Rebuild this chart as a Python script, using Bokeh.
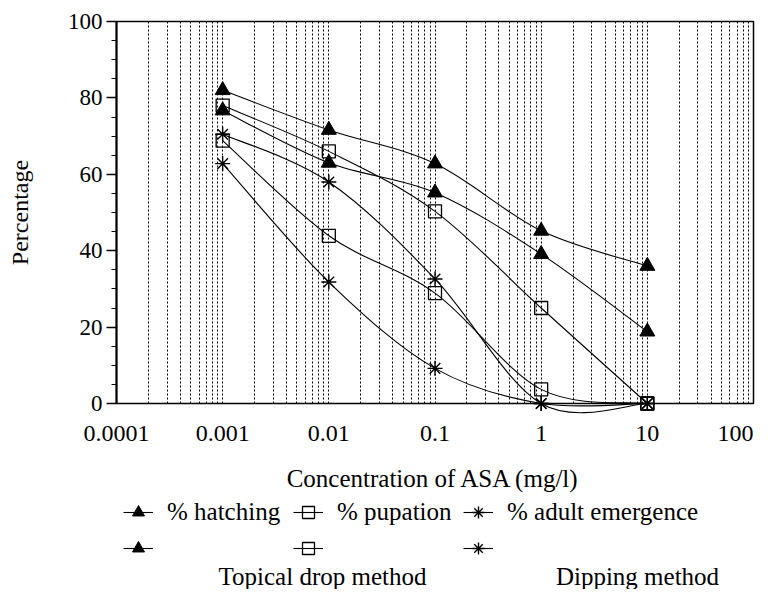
import math
from bokeh.plotting import figure
from bokeh.layouts import column
from bokeh.models import FixedTicker, Legend, LegendItem, Label, Range1d
from bokeh.embed import file_html
from bokeh.resources import INLINE
from bokeh.core.properties import value

# ---------------- data ----------------
conc = [0.001, 0.01, 0.1, 1, 10]
hatch_a = [82, 71.6, 62.8, 45.2, 36]
hatch_b = [76.7, 63, 55.2, 39.1, 18.8]
pup_a = [78, 66, 50.3, 25, 0]
pup_b = [68.8, 43.9, 28.9, 3.7, 0]
adult_a = [70.5, 58, 32.6, 0, 0]
adult_b = [62.8, 31.8, 9.2, 0, 0]

x_ticks = [0.0001, 0.001, 0.01, 0.1, 1, 10, 100]
x_tick_labels = ["0.0001", "0.001", "0.01", "0.1", "1", "10", "100"]
y_ticks = [0, 20, 40, 60, 80, 100]

legend_labels = ["% hatching", "% pupation", "% adult emergence"]
method_labels = ["Topical drop method", "Dipping method"]
x_label = "Concentration of ASA (mg/l)"
y_label = "Percentage"

FONT = "Liberation Serif"
W = 755
FRAME_L, FRAME_R = 116, 753
H1 = 415
H2 = 589 - H1

# ---------------- main plot ----------------
p = figure(width=W, height=H1, x_axis_type="log", title=None,
           x_range=Range1d(1e-4, 100), y_range=Range1d(0, 100),
           output_backend="svg", toolbar_location=None,
           min_border_left=FRAME_L, min_border_right=W - FRAME_R,
           min_border_top=21, min_border_bottom=12)
p.frame_align = False
p.background_fill_color = "white"
p.border_fill_color = "white"
p.outline_line_color = "black"
p.outline_line_width = 1.5

grid_ticks = [m * 10 ** e for e in range(-4, 2) for m in range(1, 10)] + [100]
p.xgrid.ticker = FixedTicker(ticks=grid_ticks)
p.xgrid.grid_line_color = "black"
p.xgrid.grid_line_dash = "2 2"
p.xgrid.grid_line_width = 1
p.ygrid.visible = False
p.xaxis.visible = False

p.yaxis.ticker = FixedTicker(ticks=y_ticks, minor_ticks=list(range(0, 101, 5)))
p.yaxis.major_tick_out = 10
p.yaxis.major_tick_in = 0
p.yaxis.minor_tick_out = 5
p.yaxis.minor_tick_in = 0
p.yaxis.axis_line_width = 2
p.yaxis.major_tick_line_width = 1.3
p.yaxis.major_label_text_font = FONT
p.yaxis.major_label_text_font_size = "23px"
p.yaxis.major_label_text_color = "black"
p.yaxis.major_label_standoff = 4
p.yaxis.axis_label = y_label
p.yaxis.axis_label_text_font = FONT
p.yaxis.axis_label_text_font_size = "24px"
p.yaxis.axis_label_text_font_style = "normal"
p.yaxis.axis_label_text_color = "black"
p.yaxis.axis_label_standoff = 32


def smooth_segments(xs, ys):
    lx = [math.log10(v) for v in xs]
    n = len(xs)
    out = dict(x0=[], y0=[], x1=[], y1=[], cx0=[], cy0=[], cx1=[], cy1=[])
    for i in range(n - 1):
        i0 = max(i - 1, 0)
        i3 = min(i + 2, n - 1)
        c1x = lx[i] + (lx[i + 1] - lx[i0]) / 6
        c1y = ys[i] + (ys[i + 1] - ys[i0]) / 6
        c2x = lx[i + 1] - (lx[i3] - lx[i]) / 6
        c2y = ys[i + 1] - (ys[i3] - ys[i]) / 6
        out["x0"].append(xs[i]); out["y0"].append(ys[i])
        out["x1"].append(xs[i + 1]); out["y1"].append(ys[i + 1])
        out["cx0"].append(10 ** c1x); out["cy0"].append(c1y)
        out["cx1"].append(10 ** c2x); out["cy1"].append(c2y)
    return out


MARKER_STYLE = {
    "triangle": dict(marker="triangle", size=15, fill_color="black", line_color="black"),
    "square": dict(marker="square", size=13, fill_alpha=0, line_color="black", line_width=1.3),
    "asterisk": dict(marker="asterisk", size=15, line_color="black", line_width=1.4),
}

series = [
    (hatch_a, "triangle"), (pup_a, "square"), (adult_a, "asterisk"),
    (hatch_b, "triangle"), (pup_b, "square"), (adult_b, "asterisk"),
]
for ys, marker in series:
    seg = smooth_segments(conc, ys)
    p.bezier(line_color="black", line_width=1.1, level="overlay", **seg)
    p.scatter(conc, ys, level="overlay", **MARKER_STYLE[marker])

# ---------------- lower panel: x tick labels, axis title, legend ----------------
decade_px = (FRAME_R - FRAME_L) / 6.0
lo = -4 - FRAME_L / decade_px
hi = 2 + (W - FRAME_R) / decade_px
p2 = figure(width=W, height=H2, x_axis_type="log", title=None,
            x_range=Range1d(10 ** lo, 10 ** hi), y_range=Range1d(0, H2),
            output_backend="svg", toolbar_location=None,
            x_axis_location=None, y_axis_location=None,
            min_border_left=0, min_border_right=0, min_border_top=0, min_border_bottom=0)
p2.frame_align = False
p2.outline_line_color = None
p2.grid.visible = False
p2.background_fill_color = "white"
p2.border_fill_color = "white"

for i, (t, lab) in enumerate(zip(x_ticks, x_tick_labels)):
    last = i == len(x_ticks) - 1
    p2.add_layout(Label(x=t, y=589 - 433, x_units="data", y_units="screen",
                        x_offset=0,
                        text=lab, text_align="right" if last else "center",
                        text_baseline="middle", text_font=FONT,
                        text_font_size="24px", text_color="black"))

p2.add_layout(Label(x=433, y=589 - 478, x_units="screen", y_units="screen",
                    text=x_label, text_align="center", text_baseline="middle",
                    text_font=FONT, text_font_size="25px", text_color="black"))

# legend proxies: one point each, lying outside the visible x range
proxy_x = [10 ** (lo - 3)]
proxy_y = [0]
dummy = []
for ys, marker in series:
    ln = p2.line(x=proxy_x, y=proxy_y, line_color="black", line_width=1.1)
    mk = p2.scatter(x=proxy_x, y=proxy_y, **MARKER_STYLE[marker])
    dummy.append([ln, mk])


def make_legend(items, loc):
    return Legend(items=items, orientation="horizontal", location=loc,
                  glyph_width=30, glyph_height=30, label_standoff=14,
                  label_width=122, label_height=30, spacing=4, padding=0, margin=0,
                  border_line_alpha=0, background_fill_alpha=0,
                  label_text_font=FONT, label_text_font_size="25px",
                  label_text_color="black", label_text_baseline="middle")


items1 = [LegendItem(label=value(legend_labels[i]), renderers=dummy[i]) for i in range(3)]
items2 = [LegendItem(label=value(""), renderers=dummy[i + 3]) for i in range(3)]
p2.add_layout(make_legend(items1, (123, 589 - 527)), "center")
p2.add_layout(make_legend(items2, (123, 589 - 563)), "center")

p2.add_layout(Label(x=322, y=589 - 576, x_units="screen", y_units="screen",
                    text=method_labels[0], text_align="center", text_baseline="middle",
                    text_font=FONT, text_font_size="25px", text_color="black"))
p2.add_layout(Label(x=637, y=589 - 576, x_units="screen", y_units="screen",
                    text=method_labels[1], text_align="center", text_baseline="middle",
                    text_font=FONT, text_font_size="25px", text_color="black"))

open("out.html", "w").write(file_html(column(p, p2, spacing=0), INLINE))
